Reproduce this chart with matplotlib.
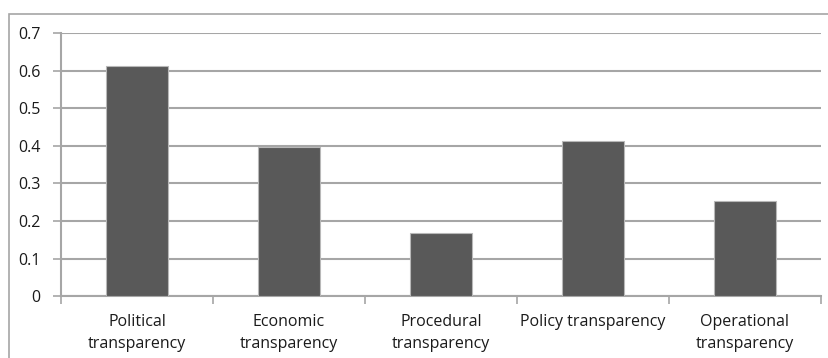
import matplotlib.pyplot as plt
from matplotlib.patches import Rectangle

categories = [
    "Political\ntransparency",
    "Economic\ntransparency",
    "Procedural\ntransparency",
    "Policy transparency",
    "Operational\ntransparency",
]
values = [0.613, 0.398, 0.168, 0.414, 0.254]
y_ticks = [0, 0.1, 0.2, 0.3, 0.4, 0.5, 0.6, 0.7]
y_labels = ["0", "0.1", "0.2", "0.3", "0.4", "0.5", "0.6", "0.7"]

W, H = 829, 358
fig = plt.figure(figsize=(W / 100, H / 100), dpi=100)
plt.rcParams["font.family"] = ["Open Sans", "DejaVu Sans"]

# chart frame, running off the right and bottom edges
fig.patches.append(Rectangle((9 / W, -0.05), 1.0, 1 - 13.5 / H + 0.05,
                             transform=fig.transFigure, fill=False,
                             edgecolor="#a6a6a6", linewidth=1.2))

left, right, top, bottom = 61, 821, 33, 296.3
ax = fig.add_axes([left / W, 1 - bottom / H, (right - left) / W, (bottom - top) / H])

x = range(len(categories))
ax.bar(x, values, width=0.405, color="#595959", edgecolor="#b8b8b8",
       linewidth=0.8, zorder=3)

ax.set_xlim(-0.5, len(categories) - 0.5)
ax.set_ylim(0, 0.7)
ax.set_yticks(y_ticks)
ax.set_yticklabels(y_labels)
ax.yaxis.grid(True, color="#a6a6a6", linewidth=1.5, zorder=0)

ax.set_xticks([i - 0.5 for i in range(len(categories) + 1)])
ax.set_xticklabels([])
ax.set_xticks(list(x), minor=True)
ax.set_xticklabels(categories, minor=True, linespacing=1.5)
ax.tick_params(axis="x", which="major", length=6, width=1.2, color="#a6a6a6")
ax.tick_params(axis="x", which="minor", length=0, pad=12.5, labelsize=11.5,
               labelcolor="#1a1a1a")
ax.tick_params(axis="y", length=6, width=1.2, color="#a6a6a6", pad=8.5,
               labelsize=11.5, labelcolor="#1a1a1a")

for side in ["top", "right"]:
    ax.spines[side].set_visible(False)
for side in ["left", "bottom"]:
    ax.spines[side].set_color("#a6a6a6")
    ax.spines[side].set_linewidth(1.5)

fig.savefig("out.png", dpi=100)
